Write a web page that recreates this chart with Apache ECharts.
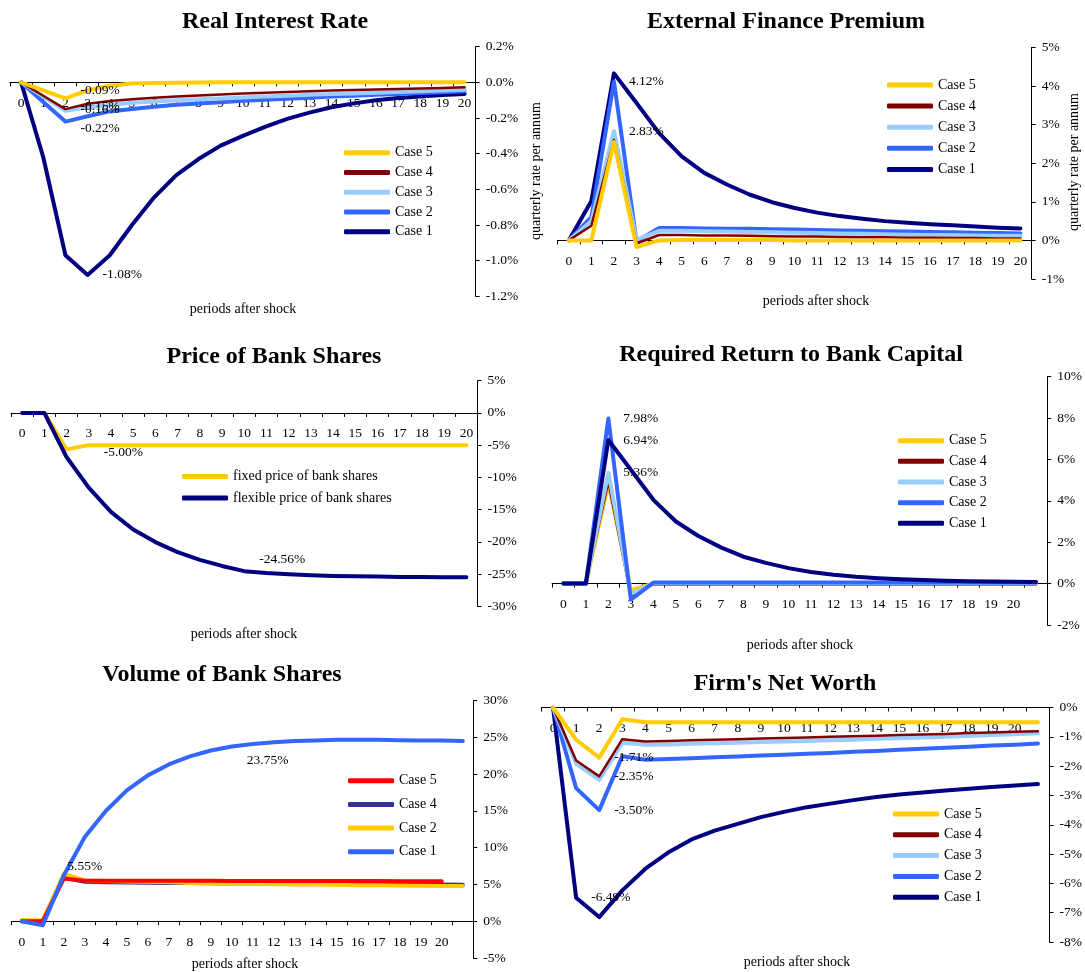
<!DOCTYPE html>
<html>
<head>
<meta charset="utf-8">
<script src="https://cdn.jsdelivr.net/npm/echarts@6/dist/echarts.min.js"></script>
<style>
  html, body { margin: 0; padding: 0; background: #fff; }
  #chart { width: 1085px; height: 972px; }
</style>
</head>
<body>
<div id="chart"></div>
<script>
// ---- Categories (periods after shock) ----
const periods = ['0','1','2','3','4','5','6','7','8','9','10','11','12','13','14','15','16','17','18','19','20'];
const periodsExt = ['0','1','2','3','4','5','6','7','8','9','10','11','12','13','14','15','16','17','18','19','20',''];

// ---- Real Interest Rate (%) ----
const rirCase1 = [0, -0.42, -0.97, -1.08, -0.97, -0.80, -0.645, -0.52, -0.43, -0.355, -0.30, -0.25, -0.205, -0.17, -0.14, -0.118, -0.10, -0.088, -0.08, -0.071, -0.065];
const rirCase2 = [0, -0.11, -0.22, -0.19, -0.163, -0.15, -0.137, -0.125, -0.118, -0.112, -0.103, -0.097, -0.092, -0.086, -0.08, -0.075, -0.069, -0.065, -0.06, -0.056, -0.05];
const rirCase3 = [0, -0.08, -0.16, -0.14, -0.125, -0.115, -0.108, -0.10, -0.095, -0.09, -0.085, -0.08, -0.075, -0.07, -0.066, -0.062, -0.058, -0.054, -0.05, -0.046, -0.042];
const rirCase4 = [0, -0.075, -0.15, -0.12, -0.105, -0.095, -0.087, -0.08, -0.074, -0.068, -0.063, -0.058, -0.054, -0.05, -0.046, -0.043, -0.04, -0.037, -0.034, -0.031, -0.028];
const rirCase5 = [0, -0.045, -0.09, -0.045, -0.019, -0.007, -0.003, -0.002, -0.001, 0, 0, 0, 0, 0, 0, 0, 0, 0, 0, 0, 0];

// ---- External Finance Premium (%) ----
const efpCase1 = [0, 1.02, 4.33, 3.56, 2.78, 2.18, 1.75, 1.45, 1.19, 0.99, 0.84, 0.72, 0.63, 0.56, 0.50, 0.46, 0.42, 0.39, 0.36, 0.33, 0.31];
const efpCase2 = [0, 0.60, 4.12, -0.03, 0.32, 0.32, 0.31, 0.30, 0.30, 0.29, 0.28, 0.27, 0.26, 0.25, 0.24, 0.23, 0.22, 0.21, 0.20, 0.19, 0.18];
const efpCase3 = [0, 0.50, 2.83, 0.02, 0.25, 0.25, 0.24, 0.23, 0.22, 0.21, 0.20, 0.19, 0.18, 0.17, 0.16, 0.15, 0.14, 0.14, 0.13, 0.12, 0.12];
const efpCase4 = [0, 0.38, 2.60, -0.08, 0.14, 0.14, 0.13, 0.13, 0.12, 0.11, 0.10, 0.10, 0.09, 0.08, 0.08, 0.07, 0.07, 0.06, 0.06, 0.05, 0.05];
const efpCase5 = [0, 0, 2.55, -0.17, 0, 0.01, 0.01, 0.01, 0.01, 0.01, 0, 0, 0, 0, 0, 0, 0, 0, 0, 0, 0];

// ---- Price of Bank Shares (%) ----
const priceFixed = [0, 0, -5.66, -5.00, -5.00, -5.00, -5.00, -5.00, -5.00, -5.00, -5.00, -5.00, -5.00, -5.00, -5.00, -5.00, -5.00, -5.00, -5.00, -5.00, -5.00];
const priceFlexible = [0, 0, -6.85, -11.6, -15.35, -18.1, -20.05, -21.6, -22.8, -23.75, -24.56, -24.85, -25.05, -25.2, -25.3, -25.35, -25.4, -25.45, -25.45, -25.5, -25.5];

// ---- Required Return to Bank Capital (%) ----
const rrcCase1 = [0, 0, 6.94, 5.50, 4.05, 3.00, 2.30, 1.75, 1.30, 1.00, 0.75, 0.56, 0.43, 0.33, 0.26, 0.21, 0.17, 0.14, 0.12, 0.10, 0.09, 0.08];
const rrcCase2 = [0, 0, 7.98, -0.78, 0.05, 0.05, 0.05, 0.05, 0.05, 0.05, 0.05, 0.05, 0.05, 0.05, 0.05, 0.05, 0.05, 0.05, 0.05, 0.05, 0.05, 0.05];
const rrcCase3 = [0, 0, 5.36, -0.50, 0.03, 0.03, 0.03, 0.03, 0.03, 0.03, 0.03, 0.03, 0.03, 0.03, 0.03, 0.03, 0.03, 0.03, 0.03, 0.03, 0.03, 0.03];
const rrcCase4 = [0, 0, 4.95, -0.60, -0.02, -0.03, -0.03, -0.03, -0.03, -0.03, -0.03, -0.03, -0.03, -0.03, -0.03, -0.03, -0.03, -0.03, -0.03, -0.03, -0.03, -0.03];
const rrcCase5 = [0, 0, 4.85, -0.30, 0, 0, 0, 0, 0, 0, 0, 0, 0, 0, 0, 0, 0, 0, 0, 0, 0, 0];

// ---- Volume of Bank Shares (%) ----
const volCase1 = [0, -0.54, 6.24, 11.45, 14.98, 17.78, 19.82, 21.31, 22.4, 23.2, 23.75, 24.1, 24.34, 24.48, 24.57, 24.66, 24.66, 24.66, 24.6, 24.57, 24.57, 24.48];
const volCase2 = [0.15, 0.1, 6.45, 5.55, 5.45, 5.4, 5.35, 5.28, 5.2, 5.15, 5.1, 5.08, 5.04, 5.0, 4.98, 4.94, 4.9, 4.88, 4.85, 4.83, 4.8, 4.78];
const volCase4 = [0, 0, 5.95, 5.35, 5.3, 5.27, 5.24, 5.21, 5.18, 5.16, 5.14, 5.12, 5.1, 5.08, 5.06, 5.05, 5.04, 5.02, 5.01, 5.0, 4.98, 4.97];
const volCase5 = [0, 0, 5.8, 5.5, 5.5, 5.5, 5.5, 5.5, 5.5, 5.5, 5.48, 5.48, 5.47, 5.47, 5.46, 5.46, 5.45, 5.45, 5.44, 5.44, 5.43];

// ---- Firm's Net Worth (%) ----
const fnwCase1 = [0, -6.49, -7.15, -6.24, -5.5, -4.94, -4.5, -4.2, -3.97, -3.74, -3.56, -3.4, -3.28, -3.16, -3.05, -2.97, -2.9, -2.83, -2.77, -2.71, -2.66, -2.61];
const fnwCase2 = [0, -2.75, -3.50, -1.66, -1.78, -1.76, -1.73, -1.70, -1.67, -1.64, -1.61, -1.58, -1.55, -1.51, -1.48, -1.44, -1.41, -1.37, -1.34, -1.30, -1.27, -1.23];
const fnwCase3 = [0, -1.92, -2.47, -1.2, -1.27, -1.26, -1.24, -1.22, -1.2, -1.18, -1.16, -1.14, -1.12, -1.1, -1.07, -1.05, -1.02, -1.0, -0.97, -0.94, -0.91, -0.88];
const fnwCase4 = [0, -1.81, -2.35, -1.08, -1.16, -1.14, -1.12, -1.1, -1.08, -1.06, -1.04, -1.02, -1.0, -0.98, -0.96, -0.94, -0.92, -0.9, -0.87, -0.85, -0.83, -0.81];
const fnwCase5 = [0, -1.1, -1.71, -0.4, -0.5, -0.5, -0.5, -0.5, -0.5, -0.5, -0.5, -0.5, -0.5, -0.5, -0.5, -0.5, -0.5, -0.5, -0.5, -0.5, -0.5, -0.5];

// ---- Styling ----
const FONT = '"Liberation Serif", "Times New Roman", serif';
const NAVY = '#000080', BLUE = '#3366FF', LIGHT = '#99CCFF', MAROON = '#800000',
      GOLD = '#FFCC00', RED = '#FF0000', INDIGO = '#333399';

// Each panel: plotting rectangle, axis range, series (drawing order) and legend order.
// Series label specs: [pointIndex, position, offsetX, offsetY]
const panels = [
  {
    key: 'rir', title: 'Real Interest Rate', titlePos: [275, 22],
    grid: { left: 10, top: 46.7, width: 465.7, height: 249.6 },
    cats: periods, y: { min: -1.2, max: 0.2, interval: 0.2, dec: 1 },
    series: [
      { name: 'Case 1', color: NAVY, width: 4, data: rirCase1, labels: [[3, 'right', 0, 0]] },
      { name: 'Case 2', color: BLUE, width: 4, data: rirCase2, labels: [[2, 'right', 0, 7]] },
      { name: 'Case 3', color: LIGHT, width: 4, data: rirCase3, labels: [[2, 'right', 0, -1]] },
      { name: 'Case 4', color: MAROON, width: 2.5, data: rirCase4, labels: [[2, 'right', 0, -3]] },
      { name: 'Case 5', color: GOLD, width: 4, data: rirCase5, labels: [[2, 'right', 0, -8]] }
    ],
    legendOrder: ['Case 5', 'Case 4', 'Case 3', 'Case 2', 'Case 1'],
    legend: { left: 344, top: 145.7, gap: 5.75 },
    xName: [243, 309]
  },
  {
    key: 'efp', title: 'External Finance Premium', titlePos: [786, 22],
    grid: { left: 557.5, top: 47.5, width: 474.2, height: 231.5 },
    cats: periods, y: { min: -1, max: 5, interval: 1, dec: 0 },
    series: [
      { name: 'Case 1', color: NAVY, width: 4, data: efpCase1, labels: [] },
      { name: 'Case 2', color: BLUE, width: 4, data: efpCase2, labels: [[2, 'right', 0, 0]] },
      { name: 'Case 3', color: LIGHT, width: 4, data: efpCase3, labels: [[2, 'right', 0, 0]] },
      { name: 'Case 4', color: MAROON, width: 2.5, data: efpCase4, labels: [] },
      { name: 'Case 5', color: GOLD, width: 4, data: efpCase5, labels: [] }
    ],
    legendOrder: ['Case 5', 'Case 4', 'Case 3', 'Case 2', 'Case 1'],
    legend: { left: 887, top: 78, gap: 7.1 },
    xName: [816, 301],
    yNames: [[536, 171], [1074, 162]]
  },
  {
    key: 'price', title: 'Price of Bank Shares', titlePos: [274, 357],
    grid: { left: 11, top: 380.7, width: 466.5, height: 225.5 },
    cats: periods, y: { min: -30, max: 5, interval: 5, dec: 0 },
    series: [
      { name: 'fixed price of bank shares', color: GOLD, width: 4, data: priceFixed, labels: [[3, 'right', 0, 7]] },
      { name: 'flexible price of bank shares', color: NAVY, width: 4, data: priceFlexible, labels: [[10, 'right', 0, -12]] }
    ],
    legendOrder: ['fixed price of bank shares', 'flexible price of bank shares'],
    legend: { left: 182, top: 469.5, gap: 7.5 },
    xName: [244, 634]
  },
  {
    key: 'rrc', title: 'Required Return to Bank Capital', titlePos: [791, 355],
    grid: { left: 552.1, top: 376.7, width: 497.9, height: 248.3 },
    cats: periodsExt, y: { min: -2, max: 10, interval: 2, dec: 0 },
    series: [
      { name: 'Case 5', color: GOLD, width: 4, data: rrcCase5, labels: [] },
      { name: 'Case 4', color: MAROON, width: 2.5, data: rrcCase4, labels: [] },
      { name: 'Case 3', color: LIGHT, width: 4, data: rrcCase3, labels: [[2, 'right', 0, 0]] },
      { name: 'Case 2', color: BLUE, width: 4, data: rrcCase2, labels: [[2, 'right', 0, 0]] },
      { name: 'Case 1', color: NAVY, width: 4, data: rrcCase1, labels: [[2, 'right', 0, 0]] }
    ],
    legendOrder: ['Case 5', 'Case 4', 'Case 3', 'Case 2', 'Case 1'],
    legend: { left: 898, top: 433.7, gap: 6.65 },
    xName: [800, 645]
  },
  {
    key: 'vol', title: 'Volume of Bank Shares', titlePos: [222, 675],
    grid: { left: 11.3, top: 700.5, width: 462, height: 257.5 },
    cats: periodsExt, y: { min: -5, max: 30, interval: 5, dec: 0 },
    series: [
      { name: 'Case 4', color: INDIGO, width: 4, data: volCase4, labels: [] },
      { name: 'Case 2', color: GOLD, width: 4, data: volCase2, labels: [[3, 'top', 0, 8]] },
      { name: 'Case 5', color: RED, width: 4, data: volCase5, labels: [] },
      { name: 'Case 1', color: BLUE, width: 4, data: volCase1, labels: [[10, 'right', 0, 14]] }
    ],
    legendOrder: ['Case 5', 'Case 4', 'Case 2', 'Case 1'],
    legend: { left: 348, top: 773.7, gap: 9.7 },
    xName: [245, 964]
  },
  {
    key: 'fnw', title: "Firm's Net Worth", titlePos: [785, 684],
    grid: { left: 541.5, top: 707.5, width: 512.5, height: 234.5 },
    cats: periodsExt, y: { min: -8, max: 0, interval: 1, dec: 0 },
    series: [
      { name: 'Case 1', color: NAVY, width: 4, data: fnwCase1, labels: [[1, 'right', 0, 0]] },
      { name: 'Case 2', color: BLUE, width: 4, data: fnwCase2, labels: [[2, 'right', 0, 0]] },
      { name: 'Case 3', color: LIGHT, width: 4, data: fnwCase3, labels: [] },
      { name: 'Case 4', color: MAROON, width: 2.5, data: fnwCase4, labels: [[2, 'right', 0, 0]] },
      { name: 'Case 5', color: GOLD, width: 4, data: fnwCase5, labels: [[2, 'right', 0, 0]] }
    ],
    legendOrder: ['Case 5', 'Case 4', 'Case 3', 'Case 2', 'Case 1'],
    legend: { left: 893, top: 807, gap: 6.8 },
    xName: [797, 962]
  }
];

const grids = [], xAxes = [], yAxes = [], series = [], legends = [], graphics = [];
const sep = '|';

panels.forEach((p, i) => {
  grids.push({ left: p.grid.left, top: p.grid.top, width: p.grid.width, height: p.grid.height, containLabel: false });

  // The category axis (line, ticks and labels) sits on the value axis's zero line:
  // shift it up from the grid bottom by the share of the range that lies below zero.
  const belowZero = p.grid.height * (0 - p.y.min) / (p.y.max - p.y.min);
  xAxes.push({
    type: 'category', gridIndex: i, data: p.cats, boundaryGap: true,
    position: 'bottom', offset: -belowZero,
    axisLine: { onZero: false, lineStyle: { color: '#000', width: 1 } },
    axisTick: { show: true, length: 4, lineStyle: { color: '#000' } },
    axisLabel: { interval: 0, margin: 14, color: '#000', fontFamily: FONT, fontSize: 13.5 },
    splitLine: { show: false }
  });

  yAxes.push({
    type: 'value', gridIndex: i, position: 'right',
    min: p.y.min, max: p.y.max, interval: p.y.interval,
    axisLine: { show: true, onZero: false, lineStyle: { color: '#000', width: 1 } },
    axisTick: { show: true, length: 4, lineStyle: { color: '#000' } },
    axisLabel: {
      margin: 10, color: '#000', fontFamily: FONT, fontSize: 13.5,
      formatter: v => v.toFixed(p.y.dec) + '%'
    },
    splitLine: { show: false }
  });

  p.series.forEach(s => {
    const labelAt = {};
    s.labels.forEach(l => { labelAt[l[0]] = l; });
    series.push({
      type: 'line', name: p.key + sep + s.name,
      xAxisIndex: i, yAxisIndex: i,
      showSymbol: true, showAllSymbol: true, symbol: 'circle', symbolSize: 0,
      lineStyle: { color: s.color, width: s.width, cap: 'round', join: 'round' },
      itemStyle: { color: s.color },
      emphasis: { disabled: true },
      silent: true,
      data: s.data.map((v, k) => {
        const l = labelAt[k];
        if (!l) return v;
        return {
          value: v,
          label: {
            show: true, position: l[1], distance: 15, offset: [l[2], l[3]],
            color: '#000', fontFamily: FONT, fontSize: 13.5,
            formatter: prm => prm.value.toFixed(2) + '%'
          }
        };
      })
    });
  });

  legends.push({
    orient: 'vertical', left: p.legend.left, top: p.legend.top, padding: 0,
    itemGap: p.legend.gap, itemWidth: 46, itemHeight: 5, icon: 'roundRect',
    selectedMode: false,
    data: p.legendOrder.map(n => p.key + sep + n),
    formatter: n => n.split(sep)[1],
    textStyle: { color: '#000', fontFamily: FONT, fontSize: 14, lineHeight: 14 }
  });

  graphics.push({
    type: 'text', x: p.titlePos[0], y: p.titlePos[1],
    style: { text: p.title, fill: '#000', font: 'bold 24px ' + FONT, align: 'center', verticalAlign: 'middle' }
  });
  graphics.push({
    type: 'text', x: p.xName[0], y: p.xName[1],
    style: { text: 'periods after shock', fill: '#000', font: '14px ' + FONT, align: 'center', verticalAlign: 'middle' }
  });
  (p.yNames || []).forEach(pos => {
    graphics.push({
      type: 'text', x: pos[0], y: pos[1], rotation: Math.PI / 2,
      style: { text: 'quarterly rate per annum', fill: '#000', font: '14px ' + FONT, align: 'center', verticalAlign: 'middle' }
    });
  });
});

const chart = echarts.init(document.getElementById('chart'), null, { renderer: 'canvas' });
chart.setOption({
  backgroundColor: '#fff',
  animation: false,
  grid: grids,
  xAxis: xAxes,
  yAxis: yAxes,
  legend: legends,
  series: series,
  graphic: graphics
});
</script>
</body>
</html>
